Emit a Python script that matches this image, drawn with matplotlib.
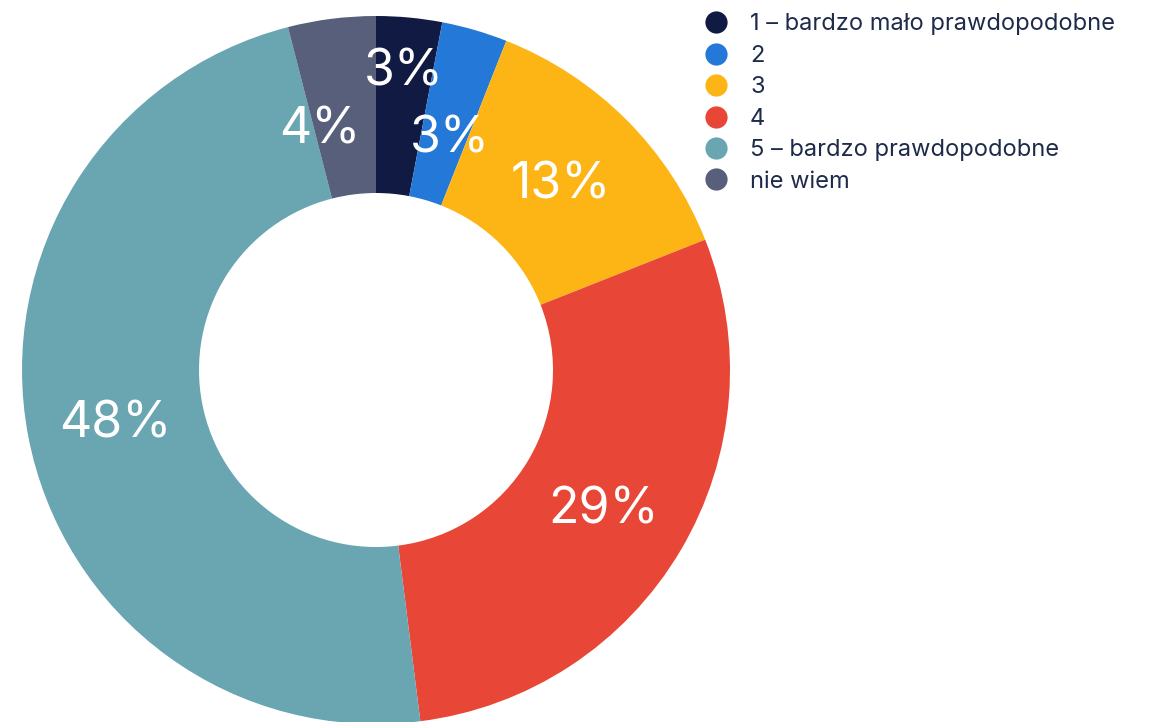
import numpy as np
import matplotlib.pyplot as plt
from matplotlib.lines import Line2D

plt.rcParams['font.family'] = ['Inter', 'DejaVu Sans']

labels = ['1 – bardzo mało prawdopodobne', '2', '3', '4', '5 – bardzo prawdopodobne', 'nie wiem']
values = [3, 3, 13, 29, 48, 4]
pct_text = ['3%', '3%', '13%', '29%', '48%', '4%']
colors = ['#111a42', '#2478d8', '#fdb515', '#e84637', '#6aa5b2', '#575f7b']
# label radius / angle nudges (pixels, degrees) so small slices don't collide
lab_r = [299, 243, 262, 267, 266, 247]
lab_da = [0, 1.5, 0, 1, -1, -6]

fig = plt.figure(figsize=(11.58, 7.22), dpi=100)
ax = fig.add_axes([0, 0, 1, 1])
R = 354
ax.pie(values, colors=colors, startangle=90, counterclock=False, radius=R,
       wedgeprops=dict(width=R * 0.5, edgecolor='none'))
ax.set_xlim(-376, 1158 - 376)
ax.set_ylim(-352, 370)
ax.set_aspect('equal')
ax.axis('off')

cum = np.cumsum([0] + values[:-1])
for i, v in enumerate(values):
    mid = (cum[i] + v / 2) / sum(values) * 360 + lab_da[i]
    th = np.deg2rad(90 - mid)
    ax.text(lab_r[i] * np.cos(th), lab_r[i] * np.sin(th), pct_text[i],
            color='white', fontsize=36, ha='center', va='center')

handles = [Line2D([], [], marker='o', linestyle='none', markersize=16,
                  markerfacecolor=c, markeredgecolor='none') for c in colors]
fig.legend(handles, labels, loc='upper left', bbox_to_anchor=(692 / 1158, 1 - 4 / 722),
           frameon=False, fontsize=17, labelcolor='#1e2a4a', handlelength=1.2,
           handletextpad=0.86, labelspacing=0.4, borderaxespad=0)

fig.savefig('out.png', dpi=100)
